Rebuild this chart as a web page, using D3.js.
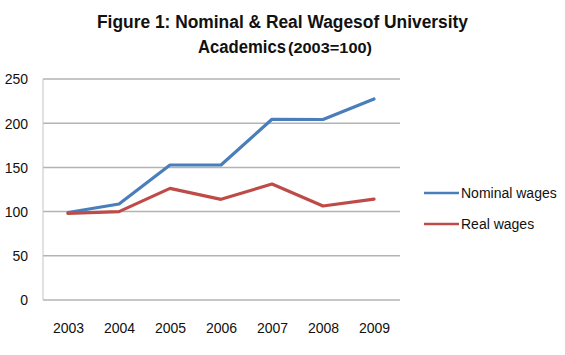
<!DOCTYPE html>
<html><head><meta charset="utf-8">
<script src="https://cdn.jsdelivr.net/npm/d3@7"></script>
<style>html,body{margin:0;padding:0;background:#fff}svg{display:block}</style>
</head><body>
<script>
const years = ["2003","2004","2005","2006","2007","2008","2009"];
const nominalWages = [99, 108.6, 152.7, 152.7, 204.4, 204.2, 227.4];
const realWages = [98, 100, 126.3, 113.9, 131.2, 106.3, 114.2];
const yTicks = [0, 50, 100, 150, 200, 250];
const seriesNames = ["Nominal wages", "Real wages"];
const seriesColors = ["#4a7ebb", "#be4b48"];

const W = 565, H = 355;
const svg = d3.select("body").append("svg").attr("width", W).attr("height", H);
const font = "Arial, 'Liberation Sans', sans-serif";

const plot = {left: 43, right: 400, top: 79, bottom: 300};
const x = d3.scalePoint().domain(years).range([68, 374]);
const y = d3.scaleLinear().domain([0, 250]).range([plot.bottom, plot.top]);

// gridlines
svg.append("g").selectAll("line").data(yTicks).join("line")
  .attr("x1", plot.left).attr("x2", plot.right)
  .attr("y1", d => y(d)).attr("y2", d => y(d))
  .attr("stroke", "#b3b3b3").attr("stroke-width", 1.5);
svg.append("line").attr("x1", plot.left).attr("x2", plot.left)
  .attr("y1", plot.top).attr("y2", plot.bottom)
  .attr("stroke", "#c4c4c4").attr("stroke-width", 1);

// y axis labels
const yAxis = d3.axisLeft(y).tickValues(yTicks).tickSize(0).tickPadding(0);
const gy = svg.append("g").attr("transform", "translate(28,0)").call(yAxis);
gy.select(".domain").remove();
gy.selectAll("text").attr("font-family", font).attr("font-size", 14).attr("fill", "#111").attr("dy", "0.35em");

// x axis labels
const xAxis = d3.axisBottom(x).tickSize(0).tickPadding(0);
const gx = svg.append("g").attr("transform", "translate(0,323)").call(xAxis);
gx.select(".domain").remove();
gx.selectAll("text").attr("font-family", font).attr("font-size", 14).attr("fill", "#111").attr("dy", "0.71em");

// lines
const line = d3.line().x((d, i) => x(years[i])).y(d => y(d));
[nominalWages, realWages].forEach((s, k) => {
  svg.append("path").datum(s).attr("d", line).attr("fill", "none")
    .attr("stroke", seriesColors[k]).attr("stroke-width", 3.2)
    .attr("stroke-linejoin", "round").attr("stroke-linecap", "round");
});

// legend
seriesNames.forEach((n, k) => {
  const ly = 193 + k * 31;
  svg.append("line").attr("x1", 424).attr("x2", 459).attr("y1", ly).attr("y2", ly)
    .attr("stroke", seriesColors[k]).attr("stroke-width", 2.5);
  svg.append("text").attr("x", 461).attr("y", ly + 5).text(n)
    .attr("font-family", font).attr("font-size", 14).attr("fill", "#111");
});

// title
svg.append("text").attr("x", 97).attr("y", 28).attr("textLength", 371).attr("lengthAdjust", "spacingAndGlyphs")
  .attr("font-family", font).attr("font-size", 18).attr("font-weight", "bold").attr("fill", "#111")
  .text("Figure 1: Nominal & Real Wagesof University");
svg.append("text").attr("x", 198).attr("y", 53).attr("textLength", 88).attr("lengthAdjust", "spacingAndGlyphs")
  .attr("font-family", font).attr("font-size", 18).attr("font-weight", "bold").attr("fill", "#111")
  .text("Academics");
svg.append("text").attr("x", 288).attr("y", 53).attr("textLength", 84).attr("lengthAdjust", "spacingAndGlyphs")
  .attr("font-family", font).attr("font-size", 14).attr("font-weight", "bold").attr("fill", "#111")
  .text("(2003=100)");
</script>
</body></html>
